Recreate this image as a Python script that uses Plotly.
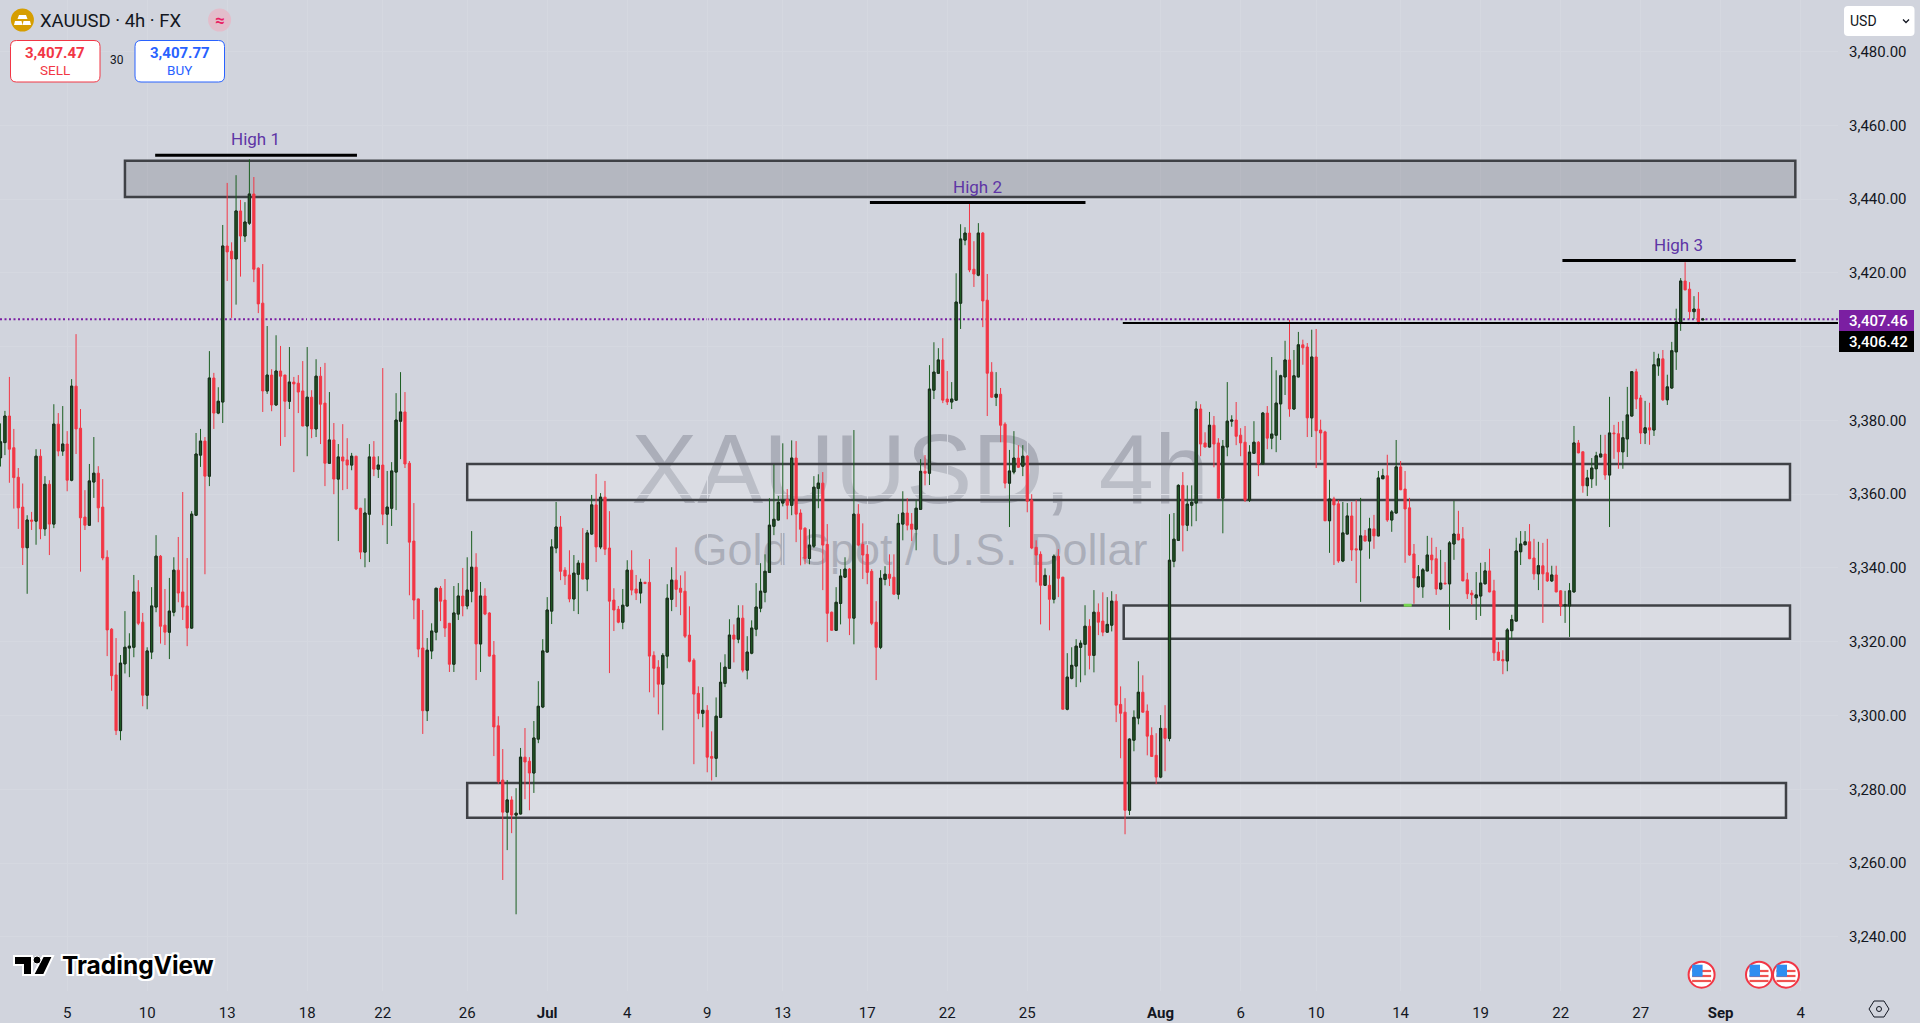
import plotly.graph_objects as go

# 4h candles
opens = [
    3369.9,3374.0,3381.2,3372.6,3364.6,3356.5,3345.5,3353.0,3352.7,3370.3,
    3350.6,3362.7,3351.9,3379.0,3371.7,3373.6,3363.8,3389.3,3377.9,3353.8,
    3351.6,3363.3,3365.7,3356.5,3342.9,3323.4,3311.0,3295.9,3314.0,3318.3,
    3318.5,3333.5,3325.3,3305.5,3317.2,3329.4,3343.2,3324.5,3322.6,3328.0,
    3339.4,3333.5,3329.7,3323.7,3354.3,3370.6,3374.4,3364.9,3391.5,3382.0,
    3385.0,3427.3,3425.9,3423.8,3436.8,3430.0,3433.5,3441.4,3421.3,3411.8,
    3388.0,3392.3,3384.2,3393.4,3392.3,3385.2,3390.4,3390.1,3388.0,3378.5,
    3386.3,3377.7,3392.0,3384.7,3368.4,3374.7,3364.1,3370.1,3369.3,3367.9,
    3370.3,3356.2,3344.3,3354.6,3370.1,3366.8,3367.9,3354.6,3356.2,3366.0,
    3379.8,3382.3,3368.4,3347.3,3331.6,3318.3,3301.3,3317.5,3322.6,3334.5,
    3331.3,3325.0,3313.9,3327.5,3332.4,3329.7,3333.7,3340.2,3319.4,3332.4,
    3327.8,3316.4,3297.2,3282.5,3273.8,3277.1,3273.0,3273.3,3288.7,3287.6,
    3284.4,3293.6,3302.3,3317.2,3328.3,3345.4,3351.1,3339.4,3338.1,3331.6,
    3338.3,3341.3,3337.0,3349.2,3357.1,3345.7,3359.2,3345.4,3331.3,3328.8,
    3325.3,3329.7,3339.4,3334.3,3333.2,3336.1,3336.1,3316.3,3313.1,3308.5,
    3316.1,3331.5,3336.7,3334.5,3333.7,3321.8,3315.0,3306.0,3300.6,3301.4,
    3288.9,3288.4,3299.5,3308.7,3312.8,3321.8,3320.7,3326.4,3312.3,3316.9,
    3323.4,3329.1,3333.4,3338.8,3351.3,3353.0,3357.6,3358.6,3357.0,3369.8,
    3354.9,3350.8,3342.6,3345.9,3361.6,3363.0,3346.4,3328.0,3323.1,3330.4,
    3337.5,3339.7,3326.4,3354.6,3346.4,3343.7,3339.1,3325.3,3318.5,3336.9,
    3338.3,3337.5,3332.9,3351.9,3354.9,3351.9,3350.5,3355.9,3366.2,3365.7,
    3388.2,3392.8,3396.4,3385.8,3385.0,3385.5,3411.8,3428.9,3430.8,3421.0,
    3419.4,3430.8,3412.6,3393.1,3386.3,3387.1,3379.0,3363.0,3366.0,3369.8,
    3367.6,3370.3,3358.4,3345.6,3343.7,3335.3,3335.3,3331.5,3343.2,3337.5,
    3301.7,3310.1,3313.4,3318.5,3319.3,3324.2,3316.3,3328.0,3325.6,3322.6,
    3324.5,3331.0,3303.0,3300.9,3274.3,3293.3,3299.3,3306.3,3301.2,3294.6,
    3289.2,3283.3,3296.5,3293.8,3341.8,3347.5,3362.4,3351.6,3357.0,3357.6,
    3383.1,3373.9,3372.8,3378.7,3373.9,3358.9,3372.8,3379.8,3380.1,3376.0,
    3374.1,3358.4,3371.1,3374.1,3368.2,3382.0,3375.2,3376.0,3384.5,3391.8,
    3396.4,3383.1,3391.8,3400.5,3399.9,3380.7,3397.2,3377.4,3376.9,3352.8,
    3358.7,3357.4,3341.9,3349.2,3354.1,3345.2,3344.9,3348.7,3347.3,3350.6,
    3348.7,3364.2,3365.0,3353.0,3354.9,3367.4,3361.4,3356.3,3343.8,3334.9,
    3334.9,3339.2,3343.5,3342.5,3334.3,3335.9,3335.7,3346.5,3349.2,3347.9,
    3336.8,3333.2,3331.9,3332.4,3335.7,3339.2,3333.8,3317.2,3315.2,3314.8,
    3323.0,3325.6,3344.4,3346.3,3347.1,3342.7,3338.4,3340.6,3338.7,3336.5,
    3338.1,3333.8,3329.7,3329.7,3333.5,3373.9,3371.5,3362.3,3364.2,3366.9,
    3370.1,3370.9,3365.2,3376.6,3376.4,3371.5,3375.0,3381.2,3393.2,3386.1,
    3376.6,3378.0,3377.4,3394.8,3396.7,3385.6,3388.8,3398.6,3406.5,3417.8,
    3415.6,3409.5,3410.2,3407.3,
]
highs = [
    3379.2,3382.6,3391.8,3377.7,3367.1,3362.9,3354.3,3355.2,3372.2,3372.2,
    3364.9,3363.8,3384.4,3382.0,3383.9,3377.1,3391.2,3403.4,3383.1,3361.1,
    3368.2,3375.5,3367.6,3364.1,3344.8,3323.7,3321.0,3316.4,3328.3,3322.3,
    3338.1,3336.7,3327.8,3318.5,3334.8,3348.9,3343.5,3334.3,3337.3,3342.9,
    3348.4,3360.6,3342.7,3355.4,3376.6,3377.7,3375.5,3398.8,3392.9,3389.0,
    3433.0,3444.4,3428.3,3446.5,3439.8,3439.2,3450.8,3446.0,3421.5,3422.4,
    3405.6,3393.9,3403.1,3400.2,3392.4,3399.9,3391.8,3392.3,3396.1,3399.9,
    3388.2,3396.6,3394.5,3395.6,3387.7,3379.3,3373.6,3379.0,3375.2,3371.2,
    3370.4,3356.3,3358.9,3373.6,3374.4,3370.3,3394.2,3366.3,3368.7,3387.4,
    3393.1,3387.7,3369.0,3357.6,3331.7,3328.6,3321.0,3325.0,3334.6,3335.1,
    3337.0,3325.1,3335.1,3335.9,3340.0,3342.9,3350.0,3344.0,3336.2,3334.5,
    3328.0,3320.2,3299.8,3290.9,3282.5,3278.1,3280.3,3291.2,3296.6,3288.7,
    3298.5,3309.3,3320.7,3332.1,3347.8,3357.9,3354.1,3340.2,3344.8,3343.5,
    3342.1,3350.8,3350.3,3359.8,3365.5,3360.3,3363.6,3355.4,3334.5,3329.7,
    3334.3,3342.1,3344.8,3338.1,3337.1,3336.3,3342.4,3317.4,3315.0,3316.9,
    3335.6,3340.2,3345.6,3338.0,3339.1,3329.6,3315.5,3307.9,3307.7,3302.8,
    3295.7,3304.9,3314.4,3316.6,3326.1,3324.7,3329.9,3329.9,3321.5,3325.8,
    3335.9,3341.3,3343.7,3358.9,3368.1,3359.5,3373.8,3361.4,3374.6,3374.4,
    3355.9,3351.0,3350.5,3364.9,3365.4,3366.0,3351.9,3328.2,3334.8,3339.7,
    3342.9,3340.0,3377.4,3357.3,3352.1,3346.2,3339.7,3331.0,3339.4,3340.5,
    3343.7,3343.7,3354.6,3360.8,3358.9,3354.9,3358.4,3369.5,3370.6,3395.0,
    3401.2,3399.6,3402.3,3393.4,3390.4,3419.9,3433.2,3432.4,3438.7,3428.6,
    3433.5,3431.1,3419.7,3395.8,3393.1,3388.8,3379.5,3372.0,3377.1,3373.3,
    3373.3,3370.6,3360.0,3347.5,3344.5,3339.9,3338.0,3343.7,3345.1,3337.6,
    3316.9,3318.5,3320.7,3320.4,3329.9,3326.1,3334.0,3330.4,3333.4,3332.1,
    3333.7,3332.9,3307.9,3304.7,3293.8,3301.4,3314.7,3310.9,3303.0,3296.8,
    3295.2,3300.1,3302.8,3354.6,3354.9,3362.7,3366.0,3362.4,3362.4,3385.2,
    3384.4,3376.8,3382.3,3381.2,3375.2,3374.7,3390.4,3381.4,3385.0,3377.9,
    3378.5,3373.3,3379.8,3374.4,3382.3,3383.9,3397.2,3393.6,3392.4,3401.6,
    3407.3,3399.1,3404.0,3401.9,3401.0,3404.6,3404.8,3380.2,3377.2,3363.9,
    3359.3,3358.4,3357.9,3357.6,3357.9,3358.4,3359.0,3350.3,3353.6,3354.4,
    3366.3,3366.9,3370.7,3355.7,3374.7,3369.0,3366.3,3359.0,3346.5,3340.8,
    3340.0,3348.7,3348.2,3345.7,3344.9,3341.6,3347.3,3358.2,3355.5,3351.1,
    3338.7,3334.0,3338.9,3341.4,3341.6,3345.2,3336.8,3319.9,3317.7,3323.7,
    3327.3,3348.2,3350.0,3350.0,3351.9,3347.9,3347.1,3346.8,3347.9,3340.6,
    3340.6,3334.0,3333.8,3335.9,3378.5,3374.7,3371.6,3366.6,3369.8,3371.5,
    3376.1,3376.1,3386.4,3378.8,3379.6,3379.9,3389.1,3393.4,3394.0,3386.9,
    3385.3,3384.8,3398.6,3398.1,3399.1,3392.4,3401.3,3410.3,3418.6,3422.9,
    3417.5,3413.7,3414.8,3407.8,
]
lows = [
    3367.5,3370.6,3363.1,3356.1,3350.6,3340.8,3333.0,3350.3,3346.3,3347.8,
    3348.7,3343.5,3350.8,3370.3,3370.4,3360.8,3363.5,3370.9,3339.0,3350.3,
    3351.5,3359.0,3352.4,3342.1,3316.1,3306.7,3294.7,3293.3,3311.4,3310.4,
    3315.8,3324.5,3302.5,3301.7,3315.3,3328.0,3319.5,3319.1,3315.3,3326.9,
    3330.7,3325.9,3318.8,3323.5,3354.1,3367.4,3338.3,3362.2,3377.7,3381.7,
    3379.3,3417.8,3407.8,3411.4,3419.0,3428.4,3433.0,3417.5,3409.1,3382.3,
    3387.2,3382.5,3384.0,3373.1,3375.5,3383.1,3366.0,3382.0,3378.4,3370.3,
    3375.2,3375.5,3373.6,3362.2,3368.3,3360.0,3347.3,3361.1,3361.4,3366.5,
    3355.7,3342.4,3340.2,3341.6,3364.9,3364.4,3351.6,3346.5,3351.4,3355.7,
    3369.5,3367.1,3332.6,3326.1,3315.8,3295.0,3298.5,3315.3,3320.4,3325.6,
    3321.3,3311.8,3311.8,3325.9,3326.9,3328.8,3330.7,3309.6,3311.8,3327.2,
    3316.0,3289.0,3281.4,3255.4,3263.5,3268.1,3246.1,3273.2,3277.3,3274.3,
    3279.0,3292.5,3302.0,3317.1,3324.8,3344.0,3336.7,3335.4,3330.7,3328.3,
    3327.5,3336.9,3333.7,3349.0,3341.6,3345.1,3343.5,3311.5,3322.9,3325.0,
    3323.4,3329.5,3332.6,3331.3,3330.4,3335.6,3306.3,3304.9,3300.3,3296.0,
    3312.8,3328.3,3329.4,3327.2,3321.0,3314.4,3286.8,3299.0,3296.8,3284.6,
    3282.4,3283.3,3299.3,3307.7,3312.7,3314.4,3319.6,3311.7,3309.8,3316.6,
    3321.5,3328.0,3330.7,3338.7,3348.9,3352.9,3356.7,3353.2,3354.3,3347.0,
    3340.7,3341.0,3341.0,3345.4,3356.2,3334.0,3319.9,3323.0,3323.0,3324.7,
    3337.4,3321.8,3319.3,3345.9,3337.0,3335.6,3324.5,3309.6,3318.0,3335.3,
    3335.1,3332.8,3331.5,3347.5,3350.2,3347.3,3344.8,3355.8,3362.4,3362.5,
    3385.8,3392.7,3384.7,3384.2,3383.1,3385.4,3404.8,3427.5,3420.2,3416.2,
    3419.1,3405.3,3381.2,3386.1,3383.9,3374.1,3361.6,3351.1,3365.4,3367.1,
    3364.9,3355.1,3345.1,3336.1,3324.7,3335.2,3323.1,3330.4,3332.1,3301.6,
    3301.4,3309.8,3307.7,3309.0,3310.9,3312.5,3311.7,3321.8,3321.5,3322.5,
    3322.8,3298.2,3288.4,3267.8,3273.0,3290.3,3297.6,3300.8,3289.2,3288.8,
    3281.4,3283.0,3284.9,3293.0,3340.2,3347.4,3344.5,3350.0,3351.3,3352.7,
    3370.3,3372.7,3372.7,3367.3,3358.8,3349.4,3370.3,3378.3,3373.3,3370.3,
    3357.9,3357.9,3371.0,3364.9,3368.1,3372.2,3372.2,3371.4,3374.7,3386.9,
    3381.0,3382.9,3391.7,3395.1,3375.5,3375.5,3367.1,3369.3,3352.7,3344.1,
    3340.8,3341.4,3341.6,3349.1,3341.9,3335.9,3330.8,3347.2,3342.5,3345.2,
    3348.6,3364.1,3352.5,3349.8,3354.8,3361.1,3341.4,3343.3,3330.3,3334.6,
    3331.9,3339.1,3338.4,3332.7,3334.0,3335.6,3323.2,3342.2,3347.5,3336.4,
    3331.6,3330.0,3325.9,3327.0,3335.6,3333.4,3314.8,3314.8,3311.2,3312.0,
    3320.7,3325.5,3340.8,3346.2,3342.4,3336.8,3334.0,3325.1,3336.2,3336.2,
    3333.4,3327.0,3325.1,3321.3,3333.4,3371.1,3360.4,3359.5,3361.7,3362.3,
    3370.0,3363.9,3351.1,3369.6,3366.9,3366.9,3370.1,3381.1,3383.1,3373.6,
    3373.6,3373.4,3375.8,3392.1,3385.3,3384.2,3388.6,3393.7,3404.3,3415.3,
    3407.5,3407.5,3406.1,3407.1,
]
closes = [
    3374.2,3381.2,3372.2,3364.5,3356.3,3345.5,3353.0,3352.7,3370.3,3350.6,
    3362.7,3351.9,3379.0,3371.7,3373.6,3363.8,3389.3,3377.7,3353.6,3351.6,
    3363.6,3365.7,3356.3,3342.7,3323.2,3310.8,3295.9,3314.2,3318.5,3318.8,
    3333.5,3325.0,3305.5,3317.5,3329.7,3343.2,3324.2,3322.6,3328.3,3339.4,
    3333.2,3329.4,3323.7,3354.6,3370.9,3374.4,3364.9,3391.5,3382.0,3385.2,
    3427.3,3425.7,3423.8,3436.8,3430.0,3433.8,3441.4,3421.0,3411.6,3388.0,
    3392.3,3384.2,3393.4,3392.0,3385.2,3390.4,3389.9,3387.7,3378.5,3386.3,
    3377.7,3392.0,3384.4,3368.4,3374.7,3364.1,3370.1,3369.0,3367.9,3370.3,
    3356.0,3344.3,3354.9,3370.1,3366.8,3367.9,3354.6,3356.5,3366.3,3380.1,
    3382.3,3368.2,3347.0,3331.3,3318.0,3301.3,3317.7,3322.9,3334.5,3331.0,
    3323.7,3313.9,3327.8,3332.4,3329.7,3334.0,3340.2,3319.4,3332.4,3327.5,
    3316.1,3296.9,3282.1,3273.8,3277.1,3273.0,3273.5,3288.7,3287.4,3284.4,
    3293.9,3302.5,3317.5,3328.6,3345.7,3351.1,3339.1,3337.8,3331.6,3338.6,
    3341.3,3337.0,3349.5,3357.1,3345.7,3359.2,3345.1,3331.0,3328.6,3325.3,
    3329.9,3339.4,3334.0,3333.2,3336.1,3335.8,3316.1,3312.8,3308.5,3316.3,
    3331.8,3336.7,3334.2,3333.4,3321.5,3314.7,3305.8,3300.6,3301.4,3288.7,
    3288.4,3299.8,3309.0,3313.1,3321.8,3320.7,3326.4,3312.3,3317.2,3323.7,
    3329.4,3333.7,3339.1,3351.6,3353.2,3357.8,3358.4,3357.0,3369.8,3354.6,
    3350.5,3342.6,3346.2,3361.9,3363.0,3346.2,3327.7,3323.1,3330.7,3337.8,
    3339.7,3326.4,3354.6,3346.2,3343.5,3338.8,3325.0,3318.5,3337.2,3338.3,
    3337.2,3332.9,3352.1,3354.9,3351.6,3350.5,3356.2,3366.2,3365.7,3388.5,
    3393.1,3396.4,3385.5,3385.0,3385.8,3412.1,3429.2,3430.8,3420.8,3419.7,
    3430.8,3412.4,3392.8,3386.3,3387.1,3378.7,3363.0,3366.3,3369.8,3367.3,
    3370.3,3358.1,3345.4,3343.5,3335.3,3338.0,3331.5,3343.2,3337.2,3301.7,
    3310.4,3313.6,3318.8,3319.6,3324.2,3316.3,3328.0,3325.3,3322.6,3324.7,
    3331.0,3302.8,3300.6,3274.3,3293.6,3299.5,3306.3,3300.9,3294.4,3288.9,
    3283.3,3296.5,3293.8,3342.1,3347.8,3362.4,3351.6,3357.3,3357.8,3383.1,
    3373.6,3372.8,3378.7,3373.6,3358.9,3373.0,3379.8,3380.1,3375.7,3373.9,
    3358.4,3371.4,3374.1,3368.2,3382.0,3375.2,3376.3,3384.7,3392.1,3396.4,
    3383.1,3392.1,3400.5,3399.7,3380.7,3397.2,3377.2,3376.6,3352.8,3358.7,
    3357.1,3341.9,3349.5,3354.1,3344.9,3344.9,3348.7,3347.3,3350.6,3348.7,
    3364.4,3365.0,3353.0,3355.2,3367.4,3361.2,3356.0,3343.5,3337.3,3337.6,
    3339.5,3343.5,3342.2,3334.3,3335.9,3335.7,3346.8,3349.2,3347.6,3336.5,
    3333.0,3332.7,3332.7,3335.9,3339.2,3333.5,3317.0,3315.0,3314.8,3323.2,
    3326.0,3344.6,3346.5,3347.1,3342.5,3338.4,3340.6,3338.4,3336.5,3338.1,
    3333.5,3329.7,3330.0,3333.8,3373.9,3371.2,3362.3,3364.4,3367.1,3370.4,
    3370.9,3365.2,3376.6,3376.4,3371.5,3375.3,3381.5,3393.2,3385.8,3376.6,
    3378.0,3377.4,3395.1,3396.7,3385.6,3389.1,3398.9,3406.7,3417.8,3415.4,
    3409.5,3410.2,3406.4,3407.46,
]
bars = list(range(len(closes)))

# time axis (bar number of each label)
tick_bars = [15,33,51,69,86,105,123,141,159,176,195,213,231,261,279,296,315,333,351,369,387,405]
tick_labels = ['5','10','13','18','22','26','<b>Jul</b>','4','9','13','17','22','25','<b>Aug</b>',
               '6','10','14','19','22','27','<b>Sep</b>','4']
price_ticks = [3240,3260,3280,3300,3320,3340,3360,3380,3400,3420,3440,3460,3480]
# 3,400.00 sits behind the last price tags, so it has no visible label
price_labels = ['3,240.00','3,260.00','3,280.00','3,300.00','3,320.00','3,340.00','3,360.00','3,380.00','',
                '3,420.00','3,440.00','3,460.00','3,480.00']

# drawn zones
zone_start = [28, 105, 252.7, 105]
zone_end = [403.8, 402.6, 402.6, 401.7]
zone_top = [3450.4, 3368.2, 3329.8, 3281.7]
zone_bottom = [3440.6, 3358.4, 3320.8, 3272.3]
zone_fill = ['rgba(60,60,70,0.19)', 'rgba(255,255,255,0.2)', 'rgba(255,255,255,0.2)', 'rgba(255,255,255,0.2)']

# drawn lines and their labels
high_names = ['High 1', 'High 2', 'High 3']
high_start = [34.8, 195.6, 351.4]
high_end = [80.2, 244.1, 403.9]
high_price = [3451.9, 3439.1, 3423.4]
high_label_bar = [57.4, 219.7, 377.6]
high_label_price = [3456.3, 3443.4, 3427.6]

last_price = 3407.46
level_price = 3406.42

W, H = 1920, 1023
M_R, M_B = 82, 32
PW, PH = W - M_R, H - M_B
BG = '#d1d4dd'
FONT = 'Roboto'
UP, DOWN = '#1b5e20', '#f23645'
ZONE_LINE = '#3f4146'
PURPLE = '#5e35a5'


def fx(px):
    return px / PW


def fy(py):
    return 1 - py / PH


def rounded(x0, y0, x1, y1, r):
    a, b, c, d = fx(x0), fy(y0), fx(x1), fy(y1)
    rx, ry = r / PW, r / PH
    return (f'M{a+rx},{b} L{c-rx},{b} Q{c},{b} {c},{b-ry} L{c},{d+ry} Q{c},{d} {c-rx},{d} '
            f'L{a+rx},{d} Q{a},{d} {a},{d+ry} L{a},{b-ry} Q{a},{b} {a+rx},{b} Z')


def poly(points):
    return 'M' + ' L'.join(f'{fx(x)},{fy(y)}' for x, y in points) + ' Z'


shapes = []
notes = []


def box(x0, y0, x1, y1, fill, line=None, width=0, r=0, layer='above'):
    s = dict(type='path', path=rounded(x0, y0, x1, y1, r), xref='paper', yref='paper', fillcolor=fill,
             line=dict(color=line or fill, width=width), layer=layer)
    shapes.append(s)


def circle(cx, cy, r, fill, line=None, width=0):
    shapes.append(dict(type='circle', xref='paper', yref='paper', x0=fx(cx - r), x1=fx(cx + r),
                       y0=fy(cy + r), y1=fy(cy - r), fillcolor=fill,
                       line=dict(color=line or fill, width=width)))


def label(px, py, text, size, color, anchor='center', weight=400, **kw):
    notes.append(dict(xref='paper', yref='paper', x=fx(px), y=fy(py), text=text, showarrow=False,
                      xanchor=anchor, yanchor='middle',
                      font=dict(family=kw.pop('family', FONT), size=size, color=color, weight=weight, **kw)))


# watermark stays under the candles, so it goes on shape labels
for py, text, size in [(459, 'XAUUSD, 4h', 99), (545, 'Gold Spot / U.S. Dollar', 45)]:
    shapes.append(dict(type='rect', xref='paper', yref='paper', x0=fx(520), x1=fx(1320), y0=fy(py + 60), y1=fy(py - 60),
                       fillcolor='rgba(0,0,0,0)', line=dict(width=0), layer='between',
                       label=dict(text=text, textposition='middle center',
                                  font=dict(family='Liberation Sans', size=size, color='rgba(110,113,125,0.38)'))))

for x0, x1, top, bottom, fill in zip(zone_start, zone_end, zone_top, zone_bottom, zone_fill):
    shapes.append(dict(type='rect', xref='x', yref='y', x0=x0, x1=x1, y0=bottom, y1=top, fillcolor=fill,
                       line=dict(color=ZONE_LINE, width=2.5), layer='between'))

shapes.append(dict(type='line', xref='paper', yref='y', x0=0, x1=1, y0=last_price, y1=last_price,
                   line=dict(color='#7b1fa2', width=2, dash='2px,2.5px'), layer='between'))
shapes.append(dict(type='line', xref='x', yref='y', x0=252.5, x1=413.4, y0=level_price, y1=level_price,
                   line=dict(color='#000000', width=2), layer='above'))
for x0, x1, p in zip(high_start, high_end, high_price):
    shapes.append(dict(type='line', xref='x', yref='y', x0=x0, x1=x1, y0=p, y1=p,
                       line=dict(color='#000000', width=3), layer='above'))
for name, x, p in zip(high_names, high_label_bar, high_label_price):
    notes.append(dict(xref='x', yref='y', x=x, y=p, text=name, showarrow=False, yanchor='middle',
                      font=dict(family=FONT, size=17, color=PURPLE)))

# small green mark on the Aug zone
shapes.append(dict(type='rect', xref='x', yref='y', x0=315.7, x1=317.5, y0=3329.5, y1=3330.3,
                   fillcolor='#76d650', line=dict(width=0), layer='above'))

# header
circle(22.4, 20, 11.5, '#d69e00')
shapes.append(dict(type='path', xref='paper', yref='paper', fillcolor='#ffffff', line=dict(width=0),
                   path=poly([(19, 15), (26, 15), (27.5, 19), (17.5, 19)])))
shapes.append(dict(type='path', xref='paper', yref='paper', fillcolor='#ffffff', line=dict(width=0),
                   path=poly([(15, 21), (21.5, 21), (22.5, 25), (14, 25)])))
shapes.append(dict(type='path', xref='paper', yref='paper', fillcolor='#ffffff', line=dict(width=0),
                   path=poly([(23.5, 21), (30, 21), (31, 25), (22.5, 25)])))
label(38, 21, 'XAUUSD · 4h · FX', 18.5, '#131722', anchor='left')
circle(219.6, 20, 11.5, '#e3bdcb')
label(219.6, 20, '≈', 17, '#e91e63', weight=700)

box(10.5, 40.5, 100, 82, '#ffffff', '#f23645', 1, 6)
label(55, 53, '3,407.47', 15, '#f23645', weight=700)
label(55, 70, 'SELL', 13.5, '#f23645')
label(117.5, 60, '30', 12, '#131722')
box(135, 40.5, 224.5, 82, '#ffffff', '#2962ff', 1, 6)
label(179.5, 53, '3,407.77', 15, '#2962ff', weight=700)
label(179.5, 70, 'BUY', 13.5, '#2962ff')

# currency button
box(1844, 6, 1914.5, 36, '#ffffff', None, 0, 4)
label(1848, 21, 'USD', 14, '#131722', anchor='left')
shapes.append(dict(type='path', xref='paper', yref='paper', line=dict(color='#131722', width=1.3),
                   path='M{},{} L{},{} L{},{}'.format(fx(1903), fy(19.5), fx(1906), fy(22.5), fx(1909), fy(19.5))))

# last price tags
box(1839, 310, 1914, 331, '#7b1fa2')
label(1878, 320.5, '3,407.46', 15, '#ffffff', weight=500)
box(1839, 331, 1914, 352, '#000000')
label(1878, 341.5, '3,406.42', 15, '#ffffff', weight=500)

# logo
logo_edge = dict(color='#ffffff', width=2)
for pts in ([(14, 956), (32, 956), (32, 975), (23, 975), (23, 965), (14, 965)],
            [(43, 956), (53, 956), (44, 975), (33, 975)]):
    shapes.append(dict(type='path', xref='paper', yref='paper', fillcolor='#000000', line=logo_edge, path=poly(pts)))
circle(37, 960, 4, '#000000', '#ffffff', 1)
halo = ','.join(f'{a}px {b}px 0 #ffffff' for a in (-2, 0, 2) for b in (-2, 0, 2))
label(60, 965, 'TradingView', 24.5, '#000000', anchor='left', weight=700, family='Inter', shadow=halo)


# news flags
def flag(cx, cy):
    circle(cx, cy, 13, '#ffffff', '#f23645', 2)
    for py in (971, 976, 981):
        shapes.append(dict(type='line', xref='paper', yref='paper', x0=fx(cx - 9.5), x1=fx(cx + 9.5), y0=fy(py), y1=fy(py),
                           line=dict(color='#ef5350', width=2.2)))
    shapes.append(dict(type='rect', xref='paper', yref='paper', x0=fx(cx - 9.5), x1=fx(cx + 1), y0=fy(cy + 2), y1=fy(cy - 10),
                       fillcolor='#2f8ef0', line=dict(width=0)))


for cx in (1701.6, 1759, 1786):
    flag(cx, 974.7)

# settings hexagon
shapes.append(dict(type='path', xref='paper', yref='paper', line=dict(color='#131722', width=1), fillcolor='rgba(0,0,0,0)',
                   path=poly([(1874, 1001), (1884, 1001), (1889, 1009), (1884, 1017), (1874, 1017), (1869, 1009)])))
circle(1879, 1009, 2.5, 'rgba(0,0,0,0)', '#131722', 1)

fig = go.Figure()
fig.add_trace(go.Candlestick(
    x=bars, open=opens, high=highs, low=lows, close=closes,
    increasing=dict(line=dict(color=UP, width=1), fillcolor=UP),
    decreasing=dict(line=dict(color=DOWN, width=1), fillcolor=DOWN),
))
# dark rim around the up bodies only, the wicks keep the green
up_bars = [i for i in bars if closes[i] >= opens[i]]
fig.add_trace(go.Candlestick(
    x=up_bars,
    open=[opens[i] for i in up_bars], close=[closes[i] for i in up_bars],
    high=[closes[i] for i in up_bars], low=[opens[i] for i in up_bars],
    increasing=dict(line=dict(color='#1c2b1e', width=1), fillcolor='#1f5a24'),
))

fig.update_layout(
    width=W, height=H, autosize=False, showlegend=False,
    margin=dict(l=0, r=M_R, t=0, b=M_B, pad=0),
    paper_bgcolor=BG, plot_bgcolor=BG,
    boxgap=0.3,
    shapes=shapes, annotations=notes,
    font=dict(family=FONT, color='#131722'),
    xaxis=dict(range=[-0.11, 413.4], tickmode='array', tickvals=tick_bars, ticktext=tick_labels,
               rangeslider=dict(visible=False), showgrid=True, gridcolor='#d5d8e0', gridwidth=1,
               zeroline=False, showline=False, ticks='outside', ticklen=8, tickcolor='rgba(0,0,0,0)',
               tickfont=dict(family=FONT, size=15, color='#131722')),
    yaxis=dict(range=[3225.3, 3494.0], side='right', tickmode='array', tickvals=price_ticks, ticktext=price_labels,
               showgrid=True, gridcolor='#d5d8e0', gridwidth=1, zeroline=False, showline=False,
               ticks='outside', ticklen=7, tickcolor='rgba(0,0,0,0)',
               tickfont=dict(family=FONT, size=15, color='#131722')),
)

# drop the browser's default body margin so the page is exactly the figure
fig.write_html("out.html", config=dict(displayModeBar=False), post_script="document.body.style.margin='0';")
